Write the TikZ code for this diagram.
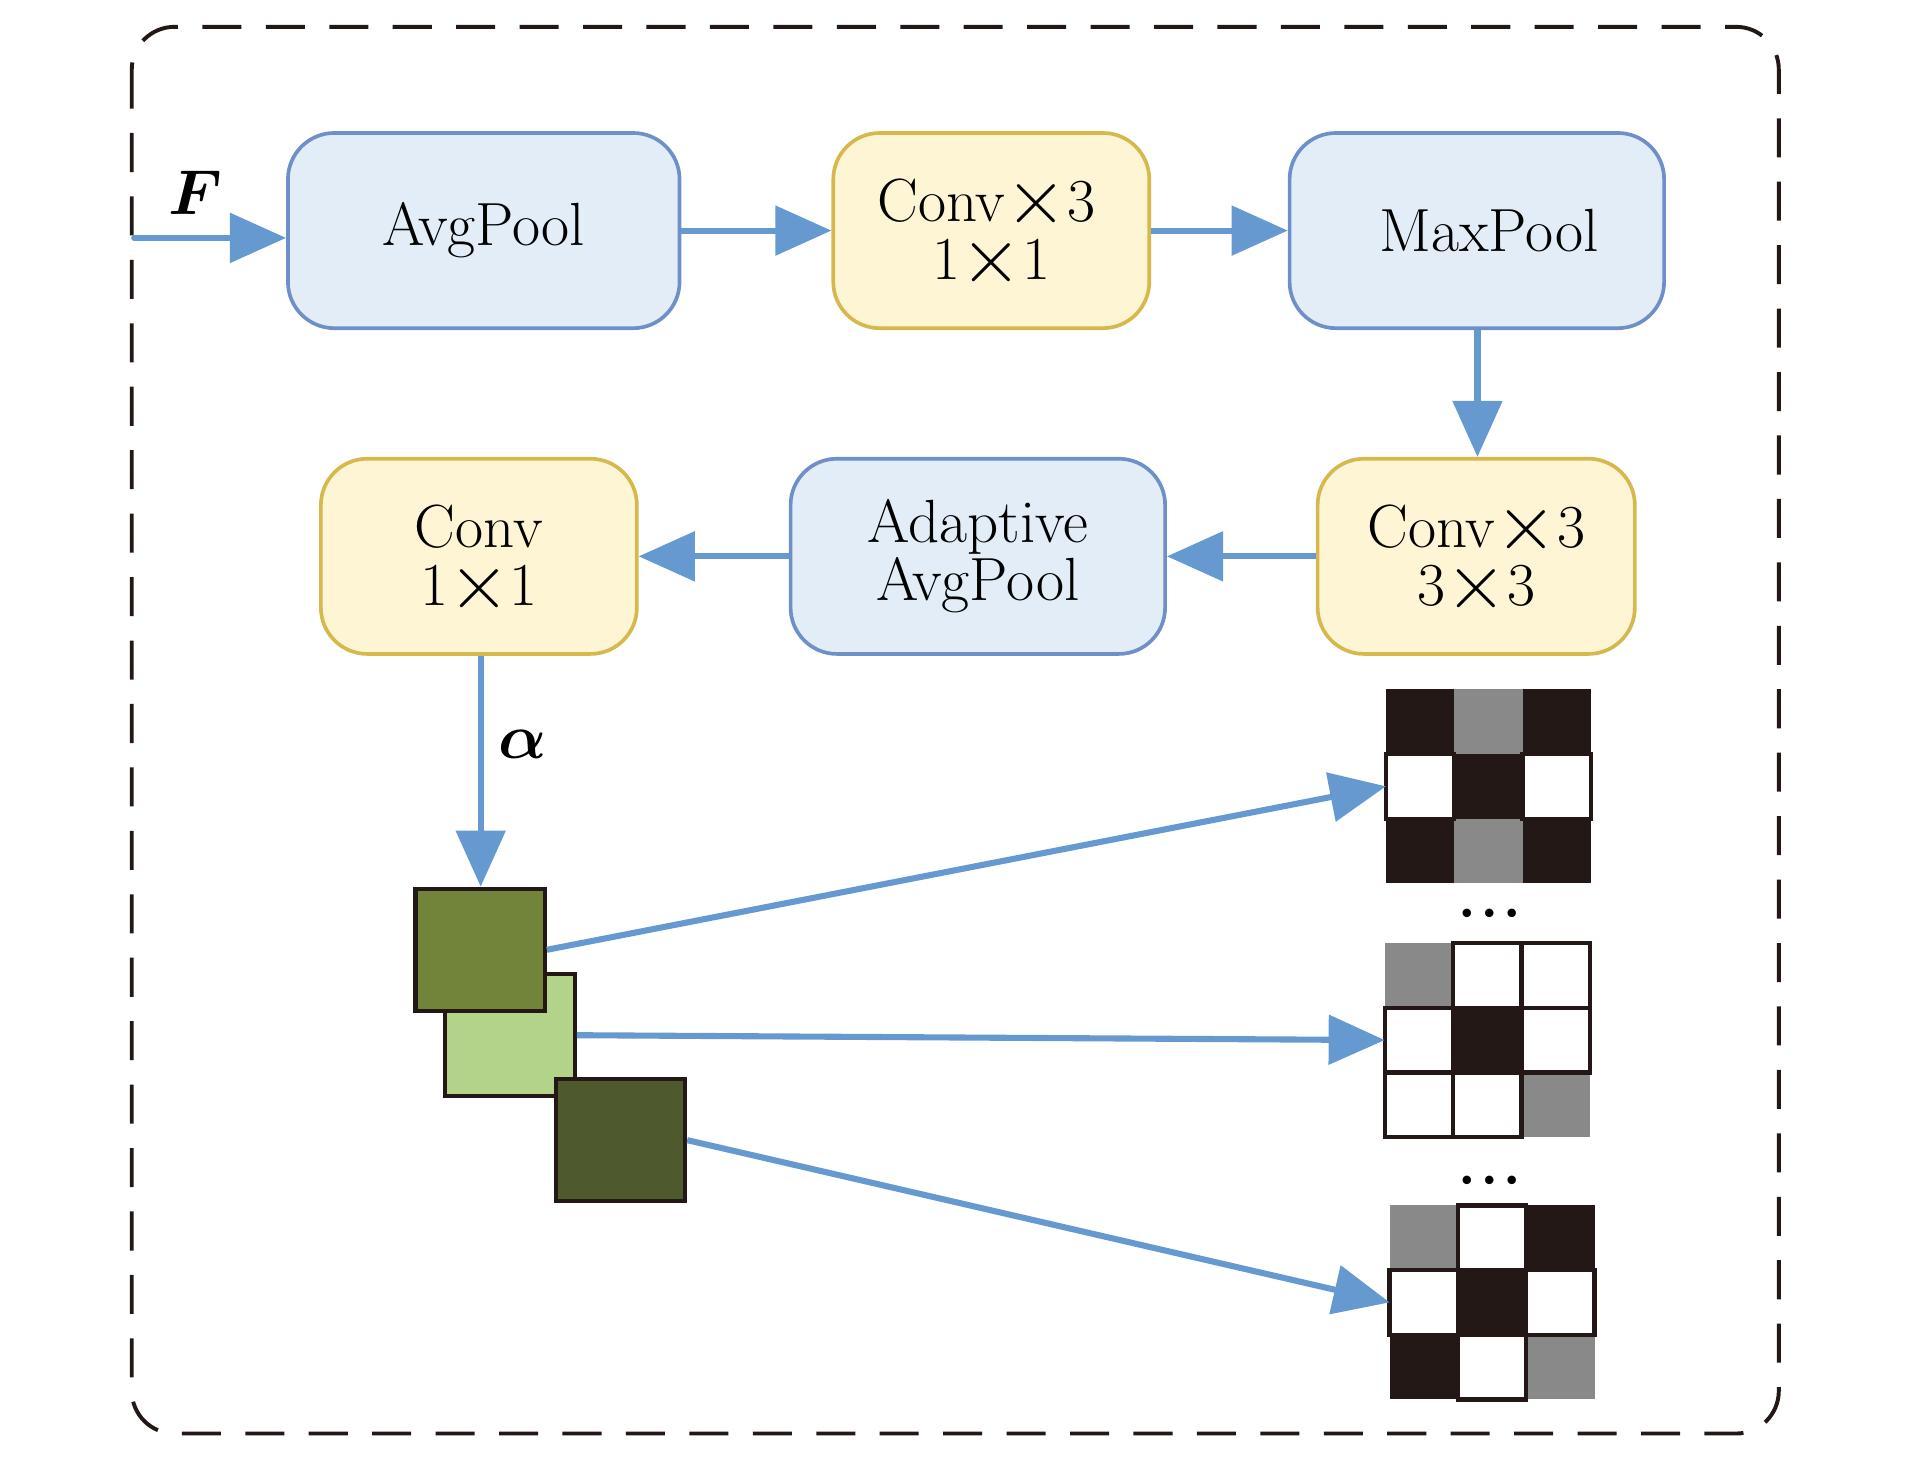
\documentclass[tikz,border=0pt]{standalone}
\usepackage{fontspec}
\usepackage{unicode-math}
\setmathfont{Latin Modern Math}
\usetikzlibrary{arrows.meta}
\definecolor{bfill}{HTML}{E3EDF8}
\definecolor{bdraw}{HTML}{6E8FC8}
\definecolor{yfill}{HTML}{FEF5D5}
\definecolor{ydraw}{HTML}{D6B84C}
\definecolor{arrblue}{HTML}{6699CF}
\definecolor{frameblack}{HTML}{231815}
\definecolor{cellK}{HTML}{231815}
\definecolor{cellG}{HTML}{898989}
\definecolor{cellW}{HTML}{FFFFFF}
\definecolor{sqA}{HTML}{71843A}
\definecolor{sqB}{HTML}{B3D38B}
\definecolor{sqC}{HTML}{4E5A2E}
\newcommand{\crossx}{\raisebox{-0.04em}{\scalebox{1.3}{$\times$}}}
\begin{document}
\begin{tikzpicture}[x=1pt,y=-1pt,
  basebox/.style={rounded corners=38pt, line width=3pt, minimum height=160pt,
    inner sep=0pt, align=center, font=\fontsize{50}{48}\selectfont},
  bluebox/.style={basebox, draw=bdraw, fill=bfill},
  yelbox/.style={basebox, draw=ydraw, fill=yfill},
  arr/.style={draw=arrblue, line width=5pt, -{Triangle[length=46pt,width=40pt]}},
  sqbox/.style={draw=frameblack, line width=3.5pt, minimum width=106pt, minimum height=100pt, inner sep=0pt},
  lbl/.style={font=\fontsize{52}{52}\selectfont, inner sep=0pt},
  dots/.style={font=\fontsize{66}{66}\selectfont, inner sep=0pt}
]
\useasboundingbox (0,0) rectangle (1568,1201);
% frame
\draw[frameblack, line width=3.2pt, dash pattern=on 32pt off 20pt, rounded corners=35pt]
  (108,22) rectangle (1458,1175);

% boxes
\node[bluebox, minimum width=321pt] (avg) at (396.5,189) {AvgPool};
\node[yelbox, minimum width=259pt] (c1) at (812.5,189) {\hspace*{-8pt}Conv\crossx 3\\1\crossx 1};
\node[bluebox, minimum width=307pt] (maxp) at (1210.5,189) {\hspace*{20pt}MaxPool};
\node[yelbox, minimum width=260pt] (c33) at (1210,456) {Conv\crossx 3\\3\crossx 3};
\node[bluebox, minimum width=307pt] (adp) at (801.5,456) {Adaptive\\AvgPool};
\node[yelbox, minimum width=259pt] (c11) at (392.5,456) {Conv\\1\crossx 1};

% input
\coordinate (fin) at (110,195);
\draw[arr, line cap=round] (fin) -- (fin -| avg.west);
\node[lbl] (lF) at (160,158) {$\symbfit{F}$};

\draw[arr] (avg.east) -- (c1.west);
\draw[arr] (c1.east) -- (maxp.west);
\draw[arr] (maxp.south -| 1211,0) -- (c33.north -| 1211,0);
\draw[arr] (c33.west) -- (adp.east);
\draw[arr] (adp.west) -- (c11.west -| c11.east);

% squares
\node[sqbox, fill=sqB] (s2) at (418,848.5) {};
\node[sqbox, fill=sqA] (s1) at (393.5,778.5) {};
\node[sqbox, fill=sqC] (s3) at (508.5,934.5) {};

\draw[arr] (c11.south -| 394,0) -- (s1.north -| 394,0);
\node[lbl] (la) at (428,610) {$\symbfit{\alpha}$};

% grids
\def\cw{56}
\def\ch{53}
\newcommand{\drawgrid}[3]{%
  \foreach \c [count=\i from 0] in {#3} {
    \pgfmathtruncatemacro{\col}{mod(\i,3)}
    \pgfmathtruncatemacro{\row}{int(\i/3)}
    \fill[cell\c] ({#1+\col*\cw},{#2+\row*\ch}) rectangle ++(\cw,\ch);
  }
  \foreach \c [count=\i from 0] in {#3} {
    \pgfmathtruncatemacro{\col}{mod(\i,3)}
    \pgfmathtruncatemacro{\row}{int(\i/3)}
    \if\c W
      \draw[frameblack, line width=3.5pt] ({#1+\col*\cw},{#2+\row*\ch}) rectangle ++(\cw,\ch);
    \fi
  }
}
\drawgrid{1136}{565}{K,G,K,W,K,W,K,G,K}
\drawgrid{1135}{773}{G,W,W,W,K,W,W,W,G}
\drawgrid{1139}{988}{G,W,K,W,K,W,K,W,G}
\coordinate (g1) at (1136,644.5);
\coordinate (g2) at (1135,852.5);
\coordinate (g3) at (1139,1067.5);

\node[dots] (d1) at (1221,755) {$\cdots$};
\node[dots] (d2) at (1221,974) {$\cdots$};

\draw[arr] (s1.east) -- (g1);
\draw[arr] (s2.east) -- (g2);
\draw[arr] (s3.east) -- (g3);
\end{tikzpicture}
\end{document}
